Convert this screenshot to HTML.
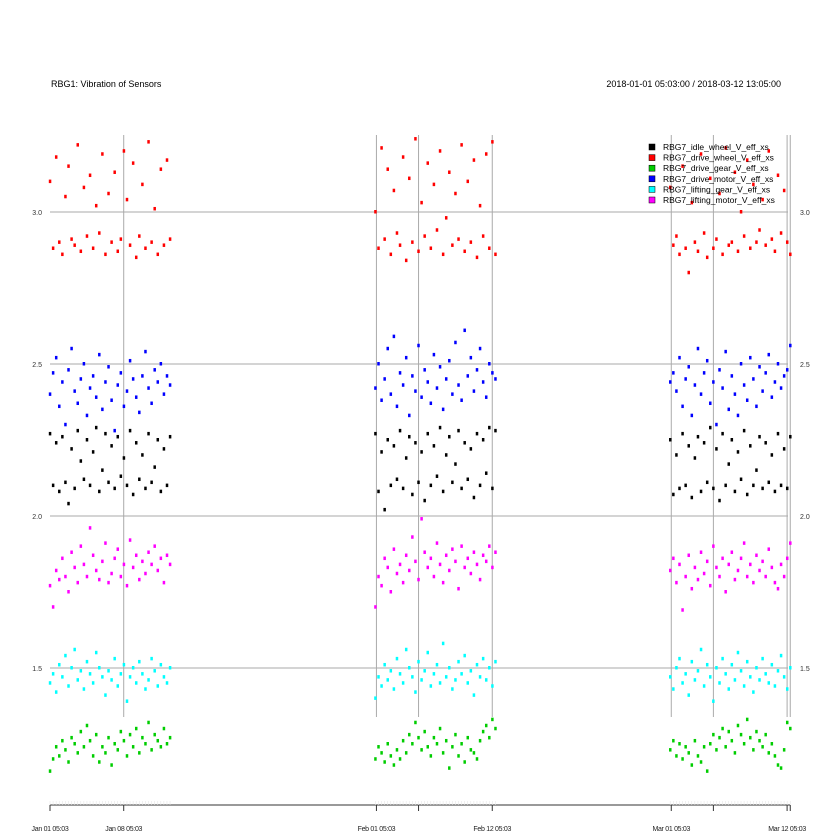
<!DOCTYPE html>
<html><head><meta charset="utf-8"><style>
html,body{margin:0;padding:0;background:#fff}
svg{display:block;font-family:"Liberation Sans",sans-serif}
</style></head><body>
<svg id="chart" width="840" height="840" viewBox="0 0 840 840">
<text x="51" y="87" font-size="9">RBG1: Vibration of Sensors</text>
<text x="781" y="87" font-size="9" text-anchor="end">2018-01-01 05:03:00 / 2018-03-12 13:05:00</text>
<g id="grid"></g><g id="pts"></g><g id="axes"></g><g id="legend"></g>
</svg>
<script>
const seriesNames=["RBG7_idle_wheel_V_eff_xs","RBG7_drive_wheel_V_eff_xs","RBG7_drive_gear_V_eff_xs","RBG7_drive_motor_V_eff_xs","RBG7_lifting_gear_V_eff_xs","RBG7_lifting_motor_V_eff_xs"];
const seriesColors=["#000000","#ff0000","#00cd00","#0000ff","#00ffff","#ff00ff"];
const periodStarts=[0,30.9,58.9];
const periodSpan=11.4;
const yTicks=[1.5,2.0,2.5,3.0];
const yTickLabels=["1.5","2.0","2.5","3.0"];
const xTickDays=[0,7,31,35,42,59,63,70,70.3];
const xLabelDays=[0,7,31,42,59,70];
const xLabels=["Jan 01 05:03","Jan 08 05:03","Feb 01 05:03","Feb 12 05:03","Mar 01 05:03","Mar 12 05:03"];
const idleWheel=[2.27,2.10,2.24,2.08,2.26,2.11,2.04,2.22,2.09,2.28,2.18,2.12,2.25,2.10,2.21,2.29,2.08,2.15,2.27,2.11,2.23,2.09,2.26,2.13,2.19,2.10,2.28,2.07,2.24,2.12,2.20,2.09,2.27,2.11,2.16,2.25,2.08,2.22,2.10,2.26,
2.27,2.08,2.21,2.02,2.25,2.10,2.23,2.12,2.28,2.09,2.19,2.26,2.07,2.24,2.11,2.21,2.05,2.27,2.10,2.23,2.13,2.29,2.08,2.20,2.26,2.11,2.17,2.28,2.09,2.24,2.12,2.22,2.06,2.27,2.10,2.25,2.14,2.29,2.09,2.28,
2.25,2.07,2.20,2.09,2.27,2.10,2.23,2.06,2.19,2.26,2.08,2.24,2.11,2.29,2.09,2.22,2.05,2.27,2.10,2.17,2.25,2.08,2.21,2.12,2.28,2.07,2.23,2.10,2.15,2.26,2.09,2.24,2.11,2.20,2.08,2.27,2.10,2.22,2.09,2.26];
const driveWheel=[3.10,2.88,3.18,2.90,2.86,3.05,3.15,2.91,2.89,3.22,2.87,3.08,2.92,3.12,2.88,3.02,2.93,3.19,2.86,3.06,2.90,3.13,2.87,2.91,3.20,3.04,2.89,3.16,2.85,2.92,3.09,2.88,3.23,2.90,3.01,2.86,3.14,2.89,3.17,2.91,
3.00,2.88,3.21,2.91,3.14,2.86,3.07,2.93,2.89,3.18,2.84,3.11,2.90,3.24,2.87,3.03,2.92,3.16,2.88,3.09,2.94,3.20,2.86,2.98,3.13,2.89,3.06,2.91,3.22,2.87,3.10,2.90,3.17,2.85,3.02,2.92,3.19,2.88,3.23,2.86,
3.08,2.89,2.92,2.86,3.15,2.88,2.80,3.03,2.90,2.87,3.19,2.93,2.85,3.11,2.88,2.91,3.06,2.86,3.21,2.89,2.90,3.13,2.87,3.00,2.92,3.17,2.88,3.09,2.90,2.94,3.04,2.89,3.20,2.91,2.87,3.12,2.93,3.07,2.90,2.86];
const driveGear=[1.16,1.20,1.24,1.21,1.26,1.23,1.19,1.27,1.25,1.22,1.29,1.24,1.31,1.26,1.21,1.28,1.19,1.24,1.22,1.27,1.18,1.25,1.23,1.29,1.26,1.21,1.28,1.24,1.30,1.22,1.27,1.25,1.32,1.23,1.28,1.26,1.24,1.30,1.25,1.27,
1.20,1.24,1.22,1.19,1.25,1.21,1.18,1.23,1.20,1.26,1.22,1.28,1.25,1.32,1.27,1.23,1.29,1.24,1.21,1.27,1.25,1.30,1.22,1.26,1.17,1.24,1.28,1.21,1.25,1.19,1.27,1.23,1.22,1.20,1.26,1.29,1.31,1.27,1.33,1.30,
1.23,1.26,1.21,1.25,1.20,1.24,1.22,1.18,1.26,1.21,1.19,1.24,1.16,1.25,1.28,1.23,1.27,1.30,1.24,1.29,1.26,1.22,1.31,1.28,1.25,1.33,1.27,1.23,1.29,1.26,1.24,1.28,1.22,1.25,1.21,1.18,1.17,1.23,1.32,1.30];
const driveMotor=[2.40,2.47,2.52,2.36,2.44,2.30,2.48,2.55,2.41,2.37,2.45,2.50,2.33,2.42,2.46,2.39,2.53,2.35,2.44,2.49,2.38,2.28,2.43,2.47,2.36,2.41,2.51,2.45,2.39,2.34,2.46,2.54,2.42,2.37,2.48,2.44,2.50,2.40,2.46,2.43,
2.42,2.50,2.38,2.45,2.55,2.40,2.59,2.36,2.47,2.43,2.52,2.33,2.46,2.41,2.56,2.39,2.48,2.44,2.37,2.53,2.42,2.49,2.35,2.45,2.51,2.40,2.57,2.43,2.38,2.61,2.46,2.52,2.41,2.48,2.55,2.44,2.39,2.50,2.47,2.45,
2.44,2.47,2.41,2.52,2.36,2.45,2.49,2.33,2.43,2.55,2.40,2.47,2.51,2.37,2.44,2.30,2.48,2.42,2.54,2.35,2.46,2.40,2.33,2.50,2.43,2.38,2.52,2.45,2.36,2.49,2.41,2.47,2.53,2.39,2.44,2.50,2.42,2.46,2.48,2.56];
const liftingGear=[1.45,1.48,1.42,1.51,1.47,1.54,1.44,1.50,1.56,1.46,1.49,1.43,1.52,1.48,1.45,1.55,1.50,1.47,1.41,1.49,1.46,1.53,1.44,1.48,1.51,1.39,1.47,1.50,1.45,1.52,1.48,1.43,1.46,1.53,1.49,1.44,1.51,1.47,1.45,1.50,
1.40,1.47,1.44,1.51,1.46,1.49,1.43,1.53,1.48,1.45,1.56,1.50,1.47,1.42,1.52,1.46,1.49,1.55,1.44,1.48,1.51,1.45,1.58,1.47,1.50,1.43,1.46,1.52,1.48,1.54,1.45,1.49,1.41,1.51,1.47,1.53,1.46,1.50,1.44,1.52,
1.47,1.43,1.50,1.53,1.45,1.48,1.41,1.52,1.46,1.49,1.56,1.44,1.51,1.47,1.39,1.50,1.45,1.53,1.48,1.43,1.51,1.46,1.55,1.49,1.44,1.52,1.47,1.42,1.50,1.46,1.53,1.48,1.45,1.51,1.44,1.49,1.54,1.47,1.43,1.50];
const liftingMotor=[1.77,1.70,1.82,1.79,1.86,1.80,1.75,1.88,1.83,1.78,1.90,1.84,1.80,1.96,1.87,1.82,1.79,1.85,1.91,1.78,1.81,1.86,1.89,1.80,1.84,1.77,1.92,1.83,1.87,1.79,1.85,1.81,1.88,1.84,1.90,1.82,1.86,1.78,1.87,1.84,
1.70,1.80,1.77,1.86,1.83,1.75,1.89,1.81,1.84,1.78,1.87,1.82,1.93,1.85,1.79,1.99,1.88,1.83,1.86,1.80,1.91,1.84,1.78,1.87,1.82,1.89,1.85,1.76,1.90,1.83,1.86,1.81,1.88,1.84,1.79,1.87,1.85,1.90,1.83,1.88,
1.82,1.86,1.78,1.84,1.69,1.80,1.87,1.76,1.83,1.79,1.88,1.81,1.85,1.77,1.90,1.83,1.80,1.86,1.75,1.84,1.88,1.79,1.82,1.86,1.91,1.80,1.84,1.78,1.87,1.82,1.85,1.80,1.89,1.83,1.78,1.76,1.84,1.80,1.86,1.91];
const allSeries=[idleWheel,driveWheel,driveGear,driveMotor,liftingGear,liftingMotor];

const NS="http://www.w3.org/2000/svg";
const X0=50,PXD=10.53,PL=50,PR=788;
function xs(d){return X0+d*PXD;}
function ys(v){return 516-(v-2)*304;}
function mk(tag,attrs,parent){const e=document.createElementNS(NS,tag);for(const k in attrs)e.setAttribute(k,attrs[k]);parent.appendChild(e);return e;}
const grid=document.getElementById('grid'),pts=document.getElementById('pts'),axes=document.getElementById('axes'),leg=document.getElementById('legend');
yTicks.forEach((t,i)=>{
  const l=mk('line',{x1:PL,x2:PR,y1:ys(t),y2:ys(t),stroke:'#aaaaaa','stroke-width':1},grid);
  
  
  const a=mk('text',{x:42,y:ys(t)+3,'font-size':7,'text-anchor':'end',fill:'#333'},axes);a.textContent=yTickLabels[i];
  
  
  const b=mk('text',{x:800,y:ys(t)+3,'font-size':7,fill:'#333'},axes);b.textContent=yTickLabels[i];
  
  
});
xTickDays.forEach(d=>{
  if(d>0){const l=mk('line',{x1:xs(d),x2:xs(d),y1:135,y2:717,stroke:'#aaaaaa','stroke-width':1},grid);
  
  }
  const t=mk('line',{x1:xs(d),x2:xs(d),y1:805,y2:811,stroke:'#333','stroke-width':1},axes);
  
  
});
const ax=mk('line',{x1:PL,x2:xs(70.3),y1:805,y2:805,stroke:'#333','stroke-width':1},axes);


xLabelDays.forEach((d,i)=>{
  const t=mk('text',{x:xs(d),y:831,'font-size':7,'text-anchor':'middle',fill:'#222','letter-spacing':'-0.3'},axes);t.textContent=xLabels[i];
  
  
});
allSeries.forEach((s,si)=>{
  const g=mk('g',{fill:seriesColors[si]},pts);
  
  
  const per=s.length/periodStarts.length;
  s.forEach((v,i)=>{
    const p=Math.floor(i/per),k=i%per;
    const d=periodStarts[p]+k*periodSpan/(per-1);
    const r=mk('rect',{x:xs(d)-1.2,y:ys(v)-2,width:2.5,height:3.5},g);
    
    
    if(si===0){const m=mk('line',{x1:xs(d),x2:xs(d),y1:801,y2:805,stroke:'#e6e6e6','stroke-width':0.6},axes);
    
    }
  });
});
seriesNames.forEach((n,i)=>{
  const y=147+i*10.6;
  const r=mk('rect',{x:649,y:y-3,width:6,height:6,fill:seriesColors[i],stroke:'#000','stroke-width':0.5},leg);
  
  
  const t=mk('text',{x:663,y:y+3,'font-size':8.5,fill:'#000'},leg);t.textContent=n;
  
  
});
</script>
</body></html>
